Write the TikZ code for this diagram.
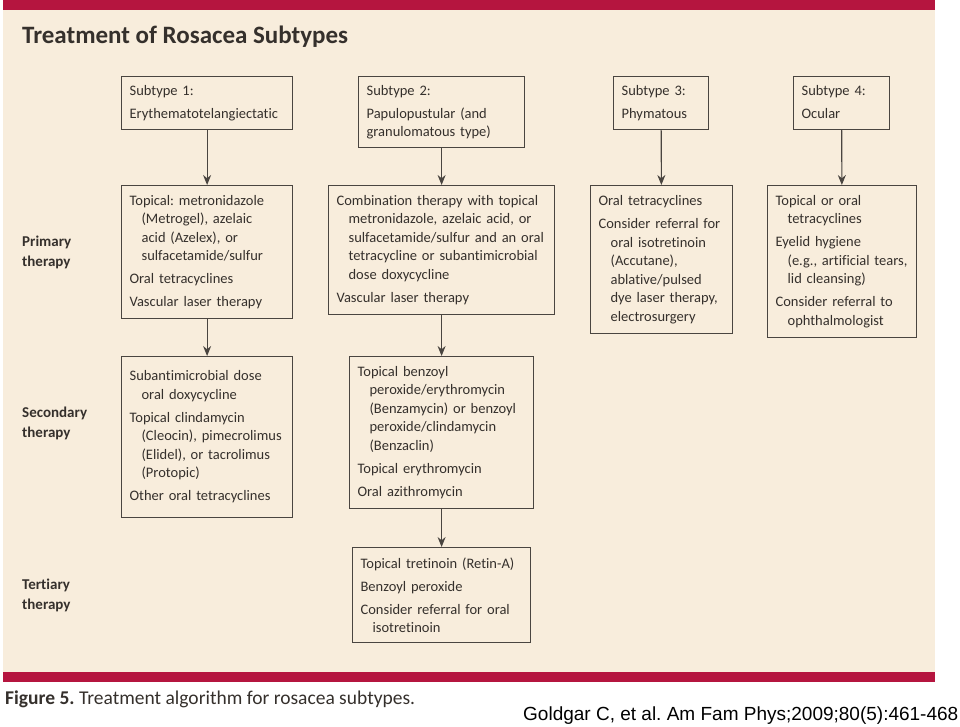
\documentclass[tikz,border=0pt]{standalone}
\usepackage{fontspec}
\setmainfont{Carlito}[Ligatures=NoCommon]
\newfontfamily\citefont{Liberation Sans}
\usepackage{tikz}
\usetikzlibrary{arrows.meta,positioning}
\definecolor{crimson}  {HTML}{B5153F}
\definecolor{parchment}{HTML}{F8EDDC}
\definecolor{ink}      {HTML}{35302C}
\definecolor{frame}    {HTML}{4A4540}
\newcommand{\boxfont}{\fontsize{14.5}{18.5}\selectfont}
\newcommand{\ind}{\hspace*{12pt}}
\newcommand{\gap}{\\[4.5pt]}
\frenchspacing

\begin{document}
\begin{tikzpicture}[x=1pt,y=-1pt,
  tbox/.style={draw=frame, line width=1.2pt, fill=parchment, anchor=north west,
               align=left, inner xsep=8pt, inner ysep=5pt, font=\boxfont, text=ink},
  arr/.style={-{Stealth[length=10pt,width=8pt]}, draw=frame, line width=1.1pt},
  rowlab/.style={anchor=west, align=left, inner sep=0pt, text=ink,
                 font=\fontsize{15}{20}\selectfont\bfseries}]
  \useasboundingbox (0,0) rectangle (960,726);
  \fill[crimson]   (3,0)   rectangle (935,10);
  \fill[parchment] (3,10)  rectangle (935,672);
  \fill[crimson]   (3,672) rectangle (935,682);

  \node[anchor=base west, inner sep=0pt, text=ink, font=\fontsize{25}{28}\selectfont\bfseries] (title) at (22,43)
    {Treatment of Rosacea Subtypes};

  \node[rowlab] (prim) at (22,252) {Primary\\therapy};
  \node[rowlab] (sec)  at (22,423) {Secondary\\therapy};
  \node[rowlab] (ter)  at (22,595) {Tertiary\\therapy};

  % subtypes
  \node[tbox, text width=155pt, minimum height=53pt] (sub1) at (121,76)
    {Subtype 1:\gap Erythematotelangiectatic};
  \node[tbox, text width=150pt, minimum height=71pt] (sub2) at (358,76)
    {Subtype 2:\gap Papulopustular (and\\granulomatous type)};
  \node[tbox, text width=79pt, minimum height=53pt] (sub3) at (613,76)
    {Subtype 3:\gap Phymatous};
  \node[tbox, text width=80pt, minimum height=53pt] (sub4) at (793,76)
    {Subtype 4:\gap Ocular\vphantom{y}};

  % primary therapy
  \node[tbox, text width=155pt, minimum height=133pt] (prim1) at (121,185)
    {Topical: metronidazole\\\ind(Metrogel), azelaic\\\ind acid (Azelex), or\\\ind sulfacetamide/sulfur\gap
     Oral tetracyclines\gap Vascular laser therapy};
  \node[tbox, text width=210pt, minimum height=129pt] (prim2) at (328,185)
    {Combination therapy with topical\\\ind metronidazole, azelaic acid, or\\\ind sulfacetamide/sulfur and an oral\\
     \ind tetracycline or subantimicrobial\\\ind dose doxycycline\gap Vascular laser therapy};
  \node[tbox, text width=126pt, minimum height=148pt] (prim3) at (590,185)
    {Oral tetracyclines\gap Consider referral for\\\ind oral isotretinoin\\\ind(Accutane),\\
     \ind ablative/pulsed\\\ind dye laser therapy,\\\ind electrosurgery};
  \node[tbox, text width=133pt, minimum height=152pt] (prim4) at (767,185)
    {Topical or oral\\\ind tetracyclines\gap Eyelid hygiene\\\ind(e.g., artificial tears,\\\ind lid cleansing)\gap
     Consider referral to\\\ind ophthalmologist};

  % secondary therapy
  \node[tbox, text width=155pt, minimum height=161pt] (sec1) at (121,356)
    {Subantimicrobial dose\\\ind oral doxycycline\gap Topical clindamycin\\\ind(Cleocin), pimecrolimus\\
     \ind(Elidel), or tacrolimus\\\ind(Protopic)\gap Other oral tetracyclines};
  \node[tbox, text width=168pt, minimum height=152pt] (sec2) at (349,356)
    {Topical benzoyl\\\ind peroxide/erythromycin\\\ind(Benzamycin) or benzoyl\\\ind peroxide/clindamycin\\
     \ind(Benzaclin)\gap Topical erythromycin\gap Oral azithromycin};

  % tertiary therapy
  \node[tbox, text width=162pt, minimum height=95pt] (ter2) at (352,547)
    {Topical tretinoin (Retin-A)\gap Benzoyl peroxide\gap Consider referral for oral\\\ind isotretinoin};

  \draw[arr] (sub1) -- (prim1);
  \draw[arr] (sub2) -- (prim2);
  \draw[arr] (sub3) -- (prim3);
  \draw[arr] (sub4) -- (prim4);
  \draw[arr] (prim1) -- (sec1);
  \draw[arr] (prim2) -- (sec2);
  \draw[arr] (sec2) -- (ter2);

  \node[anchor=base west, inner sep=0pt, text=ink, font=\fontsize{19.5}{22}\selectfont] (caption) at (5,704)
    {\textbf{Figure 5.} Treatment algorithm for rosacea subtypes.};
  \node[anchor=base west, inner sep=0pt, font=\citefont\fontsize{19}{22}\selectfont] (cite) at (523,720)
    {Goldgar C, et al. Am Fam Phys;2009;80(5):461-468};
\end{tikzpicture}
\end{document}
